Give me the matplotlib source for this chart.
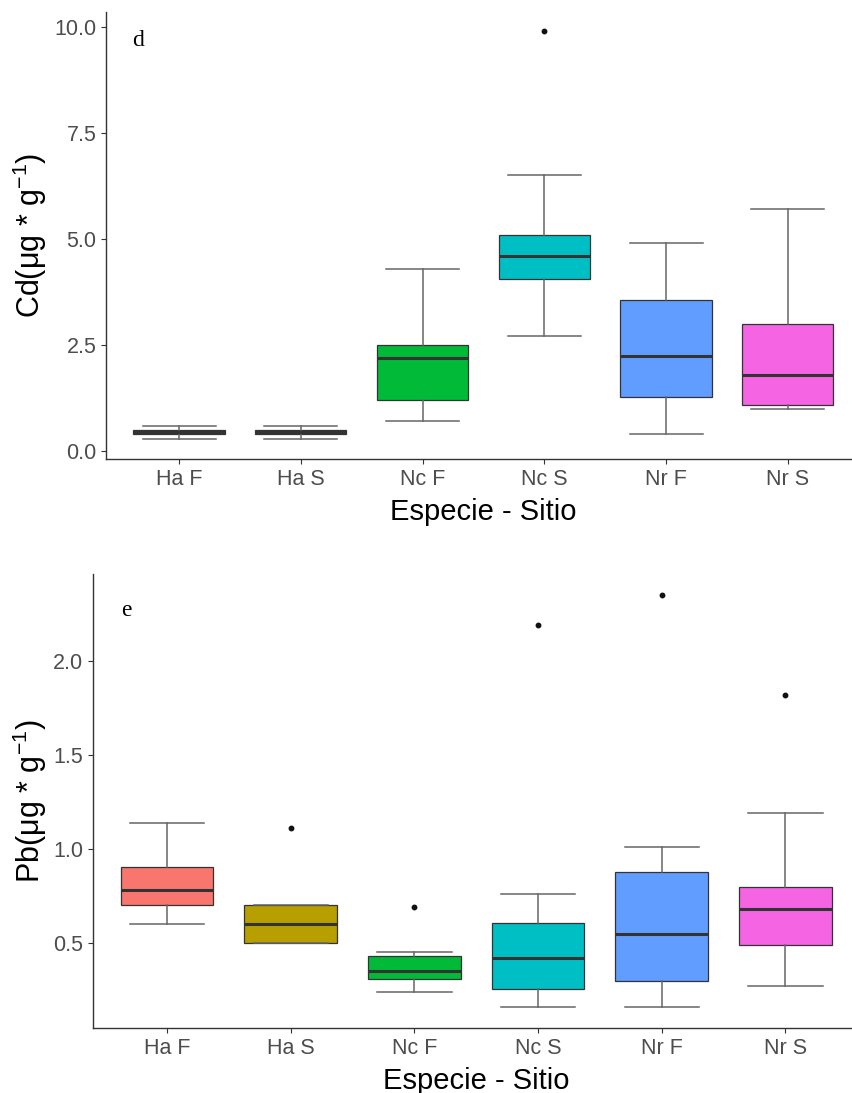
import matplotlib
matplotlib.use('Agg')
import matplotlib.pyplot as plt

plt.rcParams['font.family'] = ['Liberation Sans', 'DejaVu Sans']
plt.rcParams['mathtext.fontset'] = 'custom'
plt.rcParams['mathtext.rm'] = 'Liberation Sans'
plt.rcParams['mathtext.it'] = 'Liberation Sans'

# categories and colours (ggplot hue palette)
groups = ['Ha F', 'Ha S', 'Nc F', 'Nc S', 'Nr F', 'Nr S']
fills = ['#F8766D', '#B79F00', '#00BA38', '#00BFC4', '#619CFF', '#F564E3']

# Cd panel (d)
cd_whislo = [0.28, 0.28, 0.7, 2.7, 0.4, 1.0]
cd_q1 = [0.39, 0.39, 1.2, 4.05, 1.27, 1.08]
cd_med = [0.45, 0.45, 2.2, 4.6, 2.24, 1.8]
cd_q3 = [0.5, 0.5, 2.5, 5.1, 3.55, 3.0]
cd_whishi = [0.6, 0.6, 4.3, 6.5, 4.9, 5.7]
cd_fliers = [[], [], [], [9.9], [], []]

# Pb panel (e)
pb_whislo = [0.6, 0.5, 0.24, 0.16, 0.16, 0.27]
pb_q1 = [0.7, 0.5, 0.31, 0.255, 0.3, 0.49]
pb_med = [0.78, 0.6, 0.35, 0.42, 0.55, 0.68]
pb_q3 = [0.905, 0.7, 0.43, 0.605, 0.88, 0.8]
pb_whishi = [1.14, 0.7, 0.45, 0.76, 1.01, 1.19]
pb_fliers = [[], [1.11], [0.69], [2.19], [2.35], [1.82]]


def stats(lo, q1, med, q3, hi, fl):
    out = []
    for i in range(len(groups)):
        out.append(dict(whislo=lo[i], q1=q1[i], med=med[i], q3=q3[i],
                        whishi=hi[i], fliers=fl[i], label=groups[i]))
    return out


def draw(ax, st, ylim, yticks, ylabel, letter, lx, ly):
    pos = list(range(1, len(groups) + 1))
    bp = ax.bxp(st, positions=pos, widths=0.75, patch_artist=True,
                capwidths=0.6,
                boxprops=dict(edgecolor='#333333', linewidth=0.9),
                medianprops=dict(color='#333333', linewidth=2.2),
                whiskerprops=dict(color='#666666', linewidth=1.1),
                capprops=dict(color='#666666', linewidth=1.1),
                flierprops=dict(marker='o', markersize=3.2,
                                markerfacecolor='#111111',
                                markeredgecolor='#111111'))
    for patch, c in zip(bp['boxes'], fills):
        patch.set_facecolor(c)
    ax.set_xlim(0.4, 6.6)
    ax.set_ylim(*ylim)
    ax.set_yticks(yticks)
    ax.set_xticks(pos)
    ax.set_xticklabels(groups)
    for s in ['top', 'right']:
        ax.spines[s].set_visible(False)
    for s in ['left', 'bottom']:
        ax.spines[s].set_color('#333333')
        ax.spines[s].set_linewidth(1.0)
    ax.tick_params(axis='both', colors='#333333', labelcolor='#4D4D4D',
                   labelsize=15.5, length=3.5, width=0.8)
    ax.set_ylabel(ylabel, fontsize=22, color='black')
    ax.set_xlabel('Especie - Sitio', fontsize=21, color='black')
    ax.text(lx, ly, letter, transform=ax.transAxes, fontsize=17,
            family='Liberation Serif', color='black', va='center', ha='center')


fig = plt.figure(figsize=(8.52, 10.93), dpi=100)

ax1 = fig.add_axes([0.1244, 0.580, 0.886, 0.409])
draw(ax1, stats(cd_whislo, cd_q1, cd_med, cd_q3, cd_whishi, cd_fliers),
     (-0.19, 10.35), [0.0, 2.5, 5.0, 7.5, 10.0],
     r'Cd($\mathrm{\mu}$g * g$^{-1}$)', 'd', 0.042, 0.937)
ax1.set_yticklabels(['0.0', '2.5', '5.0', '7.5', '10.0'])
ax1.yaxis.set_label_coords(-0.0755, 0.5)
ax1.xaxis.set_label_coords(0.5, -0.087)

ax2 = fig.add_axes([0.109, 0.0595, 0.900, 0.4153])
draw(ax2, stats(pb_whislo, pb_q1, pb_med, pb_q3, pb_whishi, pb_fliers),
     (0.048, 2.463), [0.5, 1.0, 1.5, 2.0],
     r'Pb($\mathrm{\mu}$g * g$^{-1}$)', 'e', 0.044, 0.92)
ax2.set_yticklabels(['0.5', '1.0', '1.5', '2.0'])
ax2.yaxis.set_label_coords(-0.0574, 0.5)
ax2.xaxis.set_label_coords(0.5, -0.086)

fig.savefig('out.png', dpi=100)
